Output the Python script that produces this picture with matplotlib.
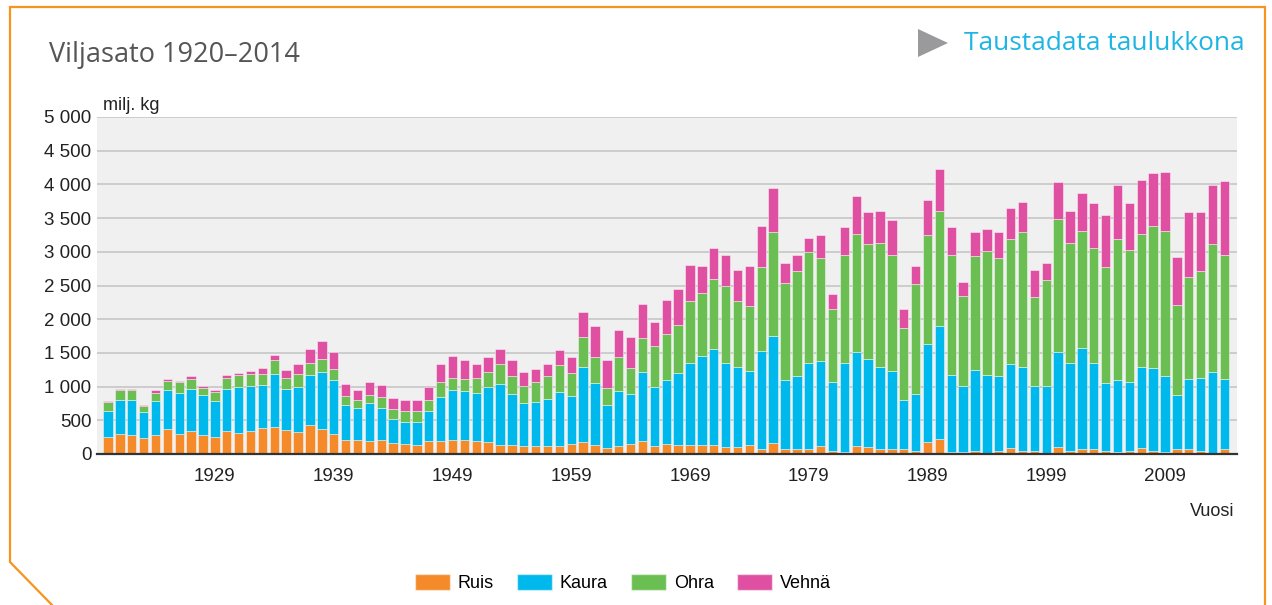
import matplotlib
matplotlib.use("Agg")
import matplotlib.pyplot as plt
from matplotlib.patches import Polygon, Patch

# ========================== DATA ================================

years = list(range(1920, 2015))

ruis = [255, 300, 280, 240, 280, 365, 300, 345, 280, 255, 345, 315, 340, 380, 400, 360,
        320, 435, 375, 295, 215, 215, 190, 215, 170, 155, 135, 190, 190, 215, 215, 190,
        175, 135, 135, 120, 120, 120, 115, 155, 175, 135, 95, 115, 155, 195, 115, 155, 135,
        130, 130, 130, 110, 110, 130, 70, 170, 70, 70, 70, 120, 50, 30, 120, 100,
        70, 70, 70, 50, 185, 225, 30, 30, 50, 10, 50, 90, 50, 50, 10, 110,
        50, 70, 70, 50, 30, 50, 90, 50, 30, 70, 70, 50, 10, 70]

kaura = [390, 505, 525, 385, 510, 580, 610, 625, 590, 535, 625, 675, 665, 650, 790, 610,
         680, 735, 840, 800, 510, 465, 570, 470, 355, 325, 345, 455, 660, 730, 715, 715,
         825, 905, 760, 640, 655, 695, 800, 700, 1120, 925, 625, 820, 740, 1025, 880, 945, 1065,
         1225, 1325, 1425, 1245, 1180, 1105, 1465, 1585, 1025, 1085, 1285, 1255, 1025, 1325, 1395, 1310,
         1220, 1165, 725, 840, 1445, 1670, 1140, 980, 1200, 1160, 1100, 1240, 1240, 960, 1000, 1405,
         1300, 1505, 1280, 1000, 1065, 1020, 1200, 1220, 1125, 805, 1045, 1085, 1205, 1045]

ohra = [120, 145, 140, 80, 120, 145, 160, 145, 115, 130, 160, 175, 185, 160, 205, 160,
        185, 185, 195, 170, 135, 125, 120, 160, 140, 160, 160, 160, 215, 180, 180, 220,
        220, 295, 265, 255, 300, 345, 400, 345, 440, 375, 260, 500, 380, 500, 605, 675, 715,
        920, 935, 1040, 1140, 985, 960, 1235, 1540, 1435, 1555, 1635, 1535, 1075, 1595, 1755, 1700,
        1840, 1720, 1075, 1625, 1620, 1715, 1785, 1335, 1685, 1840, 1765, 1860, 2005, 1320, 1565, 1975,
        1780, 1740, 1700, 1720, 2095, 1960, 1980, 2120, 2160, 1335, 1515, 1575, 1895, 1840]

vehna = [25, 20, 20, 20, 35, 20, 20, 35, 25, 25, 35, 30, 40, 85, 80, 120,
         145, 200, 265, 245, 185, 140, 190, 185, 160, 165, 165, 185, 265, 325, 280, 205,
         215, 220, 235, 205, 180, 175, 225, 235, 370, 460, 415, 400, 460, 500, 355, 505, 530,
         535, 395, 455, 455, 455, 595, 620, 655, 300, 240, 220, 340, 220, 415, 560, 480,
         480, 515, 280, 270, 515, 620, 410, 205, 360, 335, 380, 460, 450, 395, 255, 540,
         480, 555, 680, 780, 800, 700, 795, 775, 870, 720, 960, 880, 880, 1095]

series_names = ["Ruis", "Kaura", "Ohra", "Vehnä"]
series_colors = ["#F58A2A", "#00B9EC", "#6BBF52", "#DF50A2"]

y_ticks = list(range(0, 5001, 500))
y_ticklabels = ["{:,}".format(v).replace(",", " ") for v in y_ticks]
x_ticks = list(range(1929, 2010, 10))

# ========================== FIGURE ================================

W, H = 1272, 605
fig = plt.figure(figsize=(W / 100, H / 100), dpi=100)
fig.patch.set_facecolor("white")

# overlay in pixel coords for frame / title / link
over = fig.add_axes([0, 0, 1, 1])
over.set_xlim(0, W)
over.set_ylim(H, 0)
over.axis("off")
over.plot([52, 10, 10, 1265, 1265], [605, 562, 7, 7, 605],
          color="#F7941D", lw=1.6, solid_joinstyle="miter", clip_on=False)
over.text(49, 55, "Viljasato 1920–2014", fontsize=19.5, color="#555555",
          family="Open Sans", va="center", ha="left")
over.add_patch(Polygon([[918, 29], [918, 57], [948, 43]], closed=True,
                       facecolor="#9A9A9C", edgecolor="none"))
over.text(964, 44, "Taustadata taulukkona", fontsize=18.9, color="#1FB5E3",
          family="Open Sans", va="center", ha="left")

# main chart
ax = fig.add_axes([97 / W, 1 - 454 / H, (1237 - 97) / W, (454 - 117) / H])
ax.set_facecolor("#F0F0F0")
ax.set_axisbelow(True)

bottom = [0] * len(years)
for name, vals, col in zip(series_names, [ruis, kaura, ohra, vehna], series_colors):
    ax.bar(years, vals, width=0.79, bottom=bottom, color=col,
           edgecolor=(1, 1, 1, 0.45), linewidth=0.7, label=name)
    bottom = [b + v for b, v in zip(bottom, vals)]

ax.set_xlim(1919.07, 2015.06)
ax.set_ylim(0, 5000)
ax.set_yticks(y_ticks)
ax.set_yticklabels(y_ticklabels)
ax.set_xticks(x_ticks)
ax.grid(axis="y", color="#C6C6C6", lw=1.2)
for s in ["top", "right", "left"]:
    ax.spines[s].set_visible(False)
ax.spines["bottom"].set_color("#333333")
ax.spines["bottom"].set_linewidth(1.6)
ax.tick_params(axis="both", length=0, labelsize=13.5, labelcolor="#222222")
ax.tick_params(axis="y", pad=4)
ax.tick_params(axis="x", pad=10)
for lab in ax.get_xticklabels() + ax.get_yticklabels():
    lab.set_family("Liberation Sans")

over.text(103, 105, "milj. kg", fontsize=13, color="#222222",
          family="Liberation Sans", va="center", ha="left")
over.text(1234, 511, "Vuosi", fontsize=13, color="#222222",
          family="Liberation Sans", va="center", ha="right")

handles = [Patch(facecolor=c, edgecolor=(1, 1, 1, 0.5), label=n)
           for n, c in zip(series_names, series_colors)]
fig.legend(handles=handles, loc="center", bbox_to_anchor=(623 / W, 1 - 583 / H),
           ncol=4, frameon=False, handlelength=1.9, handleheight=1.0,
           handletextpad=0.45, columnspacing=1.3,
           prop={"family": "Liberation Sans", "size": 13})

fig.savefig("out.png", dpi=100)
